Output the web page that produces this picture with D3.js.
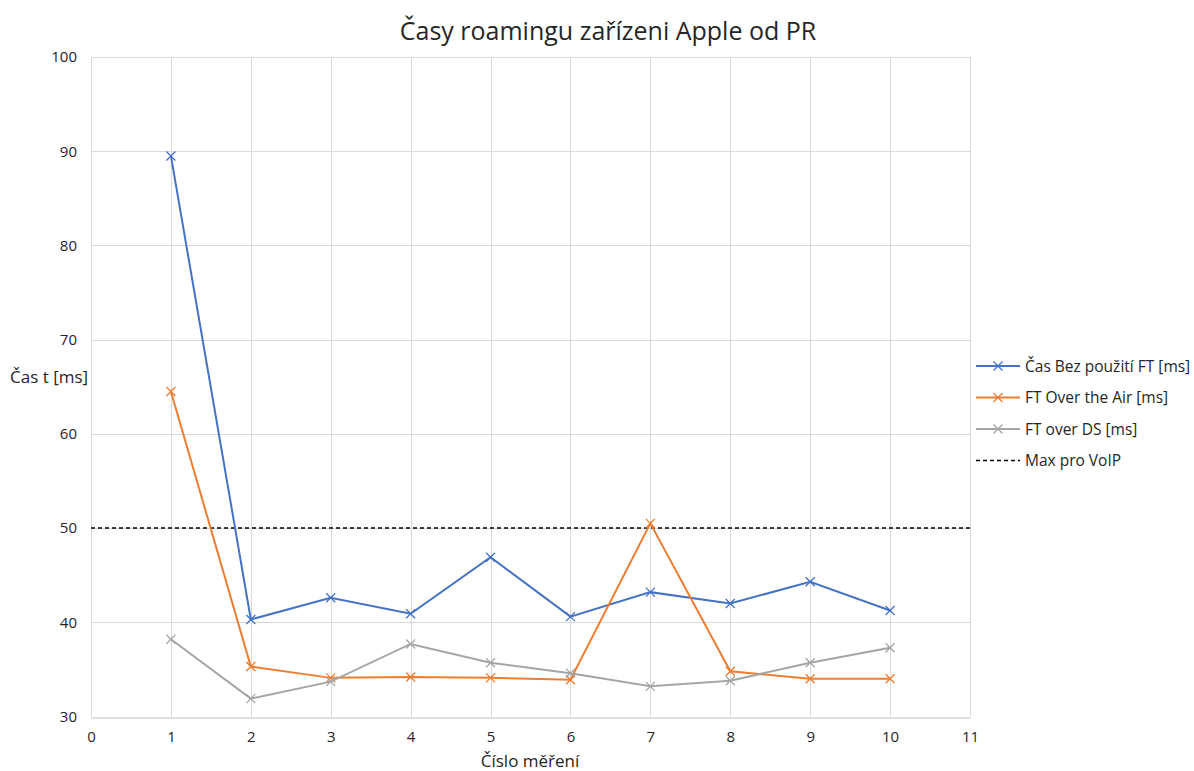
<!DOCTYPE html>
<html>
<head>
<meta charset="utf-8">
<script src="https://cdn.jsdelivr.net/npm/d3@7"></script>
<style>
  body { margin: 0; background: #fff; }
  text { font-family: "Open Sans", sans-serif; fill: #262626; }
</style>
</head>
<body>
<div id="chart"></div>
<script>
const measurements = [1, 2, 3, 4, 5, 6, 7, 8, 9, 10]
const bezFT = [89.5, 40.3, 42.6, 40.9, 46.9, 40.6, 43.2, 42.0, 44.3, 41.25]
const overAir = [64.5, 35.3, 34.1, 34.2, 34.1, 33.9, 50.5, 34.8, 34.0, 34.0]
const overDS = [38.2, 31.9, 33.7, 37.7, 35.7, 34.6, 33.2, 33.8, 35.7, 37.3]
const voipMax = 50
const xTicks = [0, 1, 2, 3, 4, 5, 6, 7, 8, 9, 10, 11]
const yTicks = [30, 40, 50, 60, 70, 80, 90, 100]

const series = [
    { name: 'Čas Bez použití FT [ms]', values: bezFT, color: '#4472C4' },
    { name: 'FT Over the Air [ms]', values: overAir, color: '#ED7D31' },
    { name: 'FT over DS [ms]', values: overDS, color: '#A5A5A5' }
]

const width = 1194
const height = 771
const margin = { top: 57, right: 224, bottom: 54, left: 91 }

const svg = d3.select('#chart')
    .append('svg')
    .attr('width', width)
    .attr('height', height)

const x = d3.scaleLinear()
    .domain([0, 11])
    .range([margin.left, width - margin.right])

const y = d3.scaleLinear()
    .domain([30, 100])
    .range([height - margin.bottom - 0.5, margin.top])

// gridlines
svg.append('g')
    .selectAll('line')
    .data(yTicks.slice(1))
    .enter()
    .append('line')
    .attr('x1', x(0)).attr('x2', x(11))
    .attr('y1', d => Math.round(y(d)) + 0.5).attr('y2', d => Math.round(y(d)) + 0.5)
    .attr('stroke', '#D9D9D9')

svg.append('g')
    .selectAll('line')
    .data(xTicks)
    .enter()
    .append('line')
    .attr('x1', d => Math.round(x(d)) + 0.5).attr('x2', d => Math.round(x(d)) + 0.5)
    .attr('y1', y(30)).attr('y2', y(100))
    .attr('stroke', '#D9D9D9')

// axes
let xAxis = svg.append('g')
    .attr('transform', `translate(0, ${Math.round(y(30)) + 0.5})`)
    .call(d3.axisBottom(x).tickValues(xTicks).tickSize(0).tickPadding(14))
xAxis.select('.domain').attr('stroke', '#BFBFBF')
xAxis.selectAll('text').style('font-size', '15px').style('font-family', '"Open Sans", sans-serif').attr('fill', '#404040')

let yAxis = svg.append('g')
    .attr('transform', `translate(${margin.left}, 0)`)
    .call(d3.axisLeft(y).tickValues(yTicks).tickSize(0).tickPadding(14))
yAxis.select('.domain').remove()
yAxis.selectAll('text').style('font-size', '15px').style('font-family', '"Open Sans", sans-serif').attr('fill', '#404040')

// VoIP threshold
svg.append('line')
    .attr('x1', x(0)).attr('x2', x(11))
    .attr('y1', y(voipMax)).attr('y2', y(voipMax))
    .attr('stroke', '#000')
    .attr('stroke-width', 1.6)
    .attr('stroke-dasharray', '4,3')

const line = d3.line()
    .x((d, i) => x(measurements[i]))
    .y(d => y(d))

const cross = (g, color, s) => {
    g.append('path')
        .attr('d', `M${-s},${-s}L${s},${s}M${-s},${s}L${s},${-s}`)
        .attr('stroke', color)
        .attr('stroke-width', 1.3)
        .attr('fill', 'none')
}

series.forEach(s => {
    svg.append('path')
        .datum(s.values)
        .attr('d', line)
        .attr('fill', 'none')
        .attr('stroke', s.color)
        .attr('stroke-width', 2)
    svg.append('g')
        .selectAll('g')
        .data(s.values)
        .enter()
        .append('g')
        .attr('transform', (d, i) => `translate(${x(measurements[i])}, ${y(d)})`)
        .each(function () { cross(d3.select(this), s.color, 4.5) })
})

// title and axis labels
svg.append('text')
    .attr('x', 608)
    .attr('y', 40)
    .attr('text-anchor', 'middle')
    .style('font-size', '25px')
    .attr('fill', '#262626')
    .text('Časy roamingu zařízeni Apple od PR')

svg.append('text')
    .attr('x', 10)
    .attr('y', 383)
    .style('font-size', '17px')
    .attr('fill', '#404040')
    .text('Čas t [ms]')

svg.append('text')
    .attr('x', 530)
    .attr('y', 767)
    .attr('text-anchor', 'middle')
    .style('font-size', '17px')
    .attr('fill', '#404040')
    .text('Číslo měření')

// legend
const legendItems = series.map(s => ({ name: s.name, color: s.color, dash: null }))
legendItems.push({ name: 'Max pro VoIP', color: '#000', dash: '4,3' })

let legend = svg.append('g')
    .selectAll('g')
    .data(legendItems)
    .enter()
    .append('g')
    .attr('transform', (d, i) => `translate(976, ${366 + i * 31.5})`)

legend.append('line')
    .attr('x1', 0).attr('x2', 44)
    .attr('stroke', d => d.color)
    .attr('stroke-width', d => d.dash ? 1.6 : 2)
    .attr('stroke-dasharray', d => d.dash)

legend.filter(d => !d.dash)
    .append('g')
    .attr('transform', 'translate(22, 0)')
    .each(function (d) { cross(d3.select(this), d.color, 4.5) })

legend.append('text')
    .attr('x', 49)
    .attr('y', 5.5)
    .style('font-size', '15.5px')
    .attr('fill', '#404040')
    .text(d => d.name)
</script>
</body>
</html>
